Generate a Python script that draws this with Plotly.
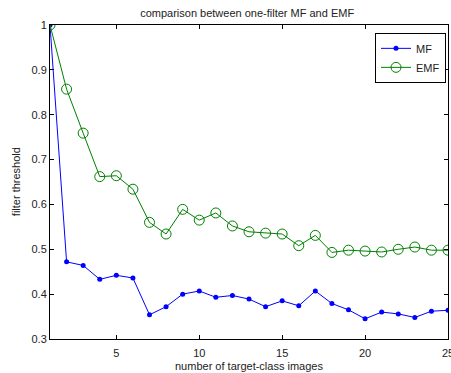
import plotly.graph_objects as go

images = list(range(1, 26))
mf = [1.0, 0.472, 0.464, 0.433, 0.442, 0.436, 0.354, 0.372, 0.400, 0.407,
      0.393, 0.397, 0.389, 0.372, 0.385, 0.374, 0.407, 0.379, 0.365, 0.345,
      0.360, 0.356, 0.348, 0.362, 0.364]
emf = [1.0, 0.857, 0.759, 0.662, 0.664, 0.634, 0.560, 0.534, 0.589, 0.565,
       0.581, 0.552, 0.539, 0.536, 0.534, 0.508, 0.531, 0.493, 0.498, 0.496,
       0.494, 0.500, 0.505, 0.498, 0.498]
xticks = [5, 10, 15, 20, 25]
yticks = [0.3, 0.4, 0.5, 0.6, 0.7, 0.8, 0.9, 1.0]
yticklabels = ["0.3", "0.4", "0.5", "0.6", "0.7", "0.8", "0.9", "1"]

font = "Liberation Sans, Arial, sans-serif"
fig = go.Figure()
fig.add_trace(go.Scatter(x=images, y=mf, name="MF", mode="lines+markers",
                         line=dict(color="#0000ff", width=1),
                         marker=dict(color="#0000ff", size=5, symbol="circle")))
fig.add_trace(go.Scatter(x=images, y=emf, name="EMF", mode="lines+markers",
                         line=dict(color="#008000", width=1),
                         marker=dict(color="#008000", size=10, symbol="circle-open",
                                     line=dict(width=1))))

axis_common = dict(showgrid=False, zeroline=False, showline=True, mirror="ticks",
                   linecolor="black", linewidth=1, ticks="inside", ticklen=4,
                   tickcolor="black", automargin=False, ticklabeloverflow="allow",
                   tickfont=dict(size=11, color="#222", family=font))
fig.update_layout(
    width=451, height=373,
    margin=dict(l=50, r=3, t=25, b=34, autoexpand=False),
    paper_bgcolor="white", plot_bgcolor="white",
    title=dict(text="comparison between one-filter MF and EMF", x=0.548, xanchor="center",
               y=0.965, yanchor="middle", font=dict(size=11, color="#222", family=font)),
    xaxis=dict(range=[1, 25], tickvals=xticks, ticklabelstandoff=4, **axis_common),
    yaxis=dict(range=[0.3, 1.0], tickvals=yticks, ticktext=yticklabels, **axis_common),
    legend=dict(x=0.995, y=0.975, xanchor="right", yanchor="top",
                bordercolor="black", borderwidth=1, bgcolor="white",
                font=dict(size=11, color="#222", family=font),
                tracegroupgap=0, itemwidth=30),
    showlegend=True,
    annotations=[
        dict(text="number of target-class images", xref="paper", yref="paper",
             x=0.5, y=-0.085, xanchor="center", yanchor="middle", showarrow=False,
             font=dict(size=11, color="#222", family=font)),
        dict(text="filter threshold", xref="paper", yref="paper",
             x=-0.085, y=0.5, xanchor="center", yanchor="middle", showarrow=False,
             textangle=-90, font=dict(size=11, color="#222", family=font)),
    ],
)
fig.write_html("out.html", config={"displayModeBar": False},
               post_script="document.body.style.margin='0';document.body.style.overflow='hidden';")
